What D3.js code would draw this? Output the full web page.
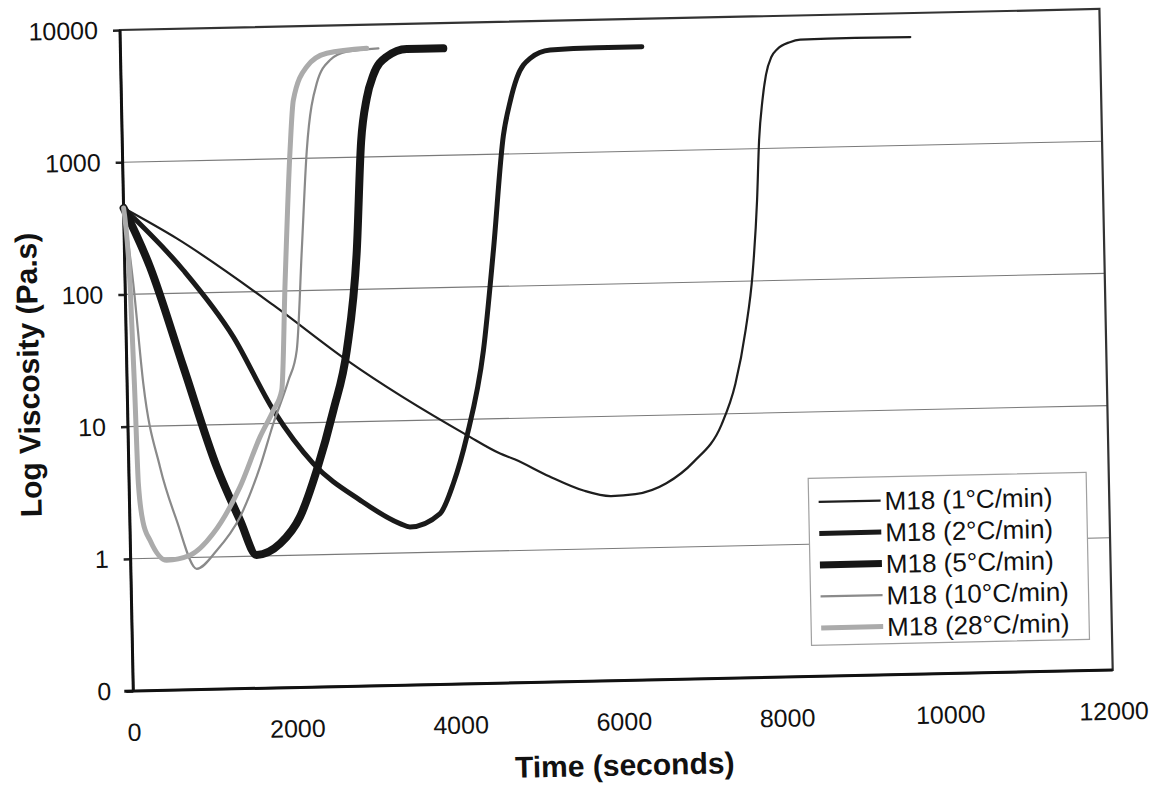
<!DOCTYPE html>
<html><head><meta charset="utf-8">
<script src="https://cdn.jsdelivr.net/npm/d3@7"></script>
<style>
html,body{margin:0;padding:0;background:#fff;}
svg{display:block;font-family:"Liberation Sans",Arial,sans-serif;}
</style>
</head><body>
<svg id="chart" width="1157" height="787"></svg>
<script>
// ---- data (time in seconds, viscosity in Pa.s) ----
const seriesLabels = ["M18 (1°C/min)", "M18 (2°C/min)", "M18 (5°C/min)", "M18 (10°C/min)", "M18 (28°C/min)"];

const time1 = [0, 643, 1811, 2696, 4148, 4551, 4727, 5145, 5563, 5900, 6197, 6580, 6922, 7270, 7449, 7589, 7687, 7760, 7800, 7850, 7900, 7970, 8044, 8200, 8328, 9000, 9677];
const visc1 = [450, 260, 78.5, 29.3, 7.6, 5.45, 4.9, 3.6, 2.77, 2.49, 2.55, 3.05, 4.4, 8.3, 16.7, 43, 113, 405, 1160, 2300, 3600, 4900, 5600, 6300, 6550, 6620, 6580];

const time2 = [0, 717, 1312, 1785, 2261, 2824, 3308, 3430, 3801, 3971, 4147, 4372, 4519, 4670, 4760, 4847, 5016, 5263, 5835, 6387];
const visc2 = [450, 149, 45.9, 12.6, 4.9, 2.55, 1.67, 1.57, 1.96, 3.29, 7.4, 33, 188, 1390, 2480, 3720, 5240, 6010, 6150, 6150];

const time5 = [0, 309, 693, 1077, 1349, 1545, 1834, 2085, 2302, 2520, 2699, 2846, 2925, 3005, 3092, 3261, 3507, 3955];
const visc5 = [450, 160, 27.7, 4.8, 1.88, 1.02, 1.23, 1.95, 4.37, 12.3, 34.8, 198, 1300, 2780, 4160, 5690, 6460, 6440];

const time10 = [0, 100, 198, 382, 573, 807, 1056, 1350, 1607, 1781, 1976, 2086, 2172, 2258, 2396, 2565, 2772, 3160];
const visc10 = [450, 121, 21.1, 4.9, 1.92, 0.82, 1.12, 1.99, 4.72, 10, 21, 35.6, 202, 1150, 3670, 5480, 6300, 6600];

const time28 = [0, 60, 90, 113, 160, 242, 441, 728, 1019, 1357, 1615, 1785, 1892, 1959, 2053, 2106, 2278, 2526, 3017];
const visc28 = [450, 120, 20, 3.7, 1.9, 1.37, 0.96, 1.04, 1.51, 3.36, 7.96, 12.6, 17.8, 114, 1160, 2770, 4920, 6170, 6630];

const xTicks = [0, 2000, 4000, 6000, 8000, 10000, 12000];
const yTicks = [0.1, 1, 10, 100, 1000, 10000];
const yTickLabels = ["0", "1", "10", "100", "1000", "10000"];
const gridValues = [1, 10, 100, 1000];
const xTitle = "Time (seconds)";
const yTitle = "Log Viscosity (Pa.s)";

// ---- styles ----
const seriesStyle = [
  {color: "#1e1e1e", width: 2.2},
  {color: "#1a1a1a", width: 5},
  {color: "#161616", width: 8},
  {color: "#8a8a8a", width: 2.2},
  {color: "#ababab", width: 5}
];

const series = [
  [time1, visc1], [time2, visc2], [time5, visc5], [time10, visc10], [time28, visc28]
].map((p, i) => ({label: seriesLabels[i], style: seriesStyle[i],
  pts: p[0].map((t, j) => ({t: t, v: p[1][j]}))}));

// ---- layout ----
const W = 979.6, H = 661.1;
const svg = d3.select("#chart");
svg.append("rect").attr("width", 1157).attr("height", 787).attr("fill", "#ffffff");
// slight tilt of the scanned original
const g = svg.append("g").attr("transform", "matrix(0.9998,-0.02144,0.02012,0.99985,120,30)");

const x = d3.scaleLinear().domain([0, 12000]).range([0, W]);
const y = d3.scaleLog().domain([0.1, 10000]).range([H, 0]);

// gridlines
g.selectAll("line.grid").data(gridValues).join("line")
  .attr("class", "grid")
  .attr("x1", 0).attr("x2", W)
  .attr("y1", d => y(d)).attr("y2", d => y(d))
  .attr("stroke", "#7a7a7a").attr("stroke-width", 1.1);

// frame (top/right)
g.append("rect").attr("x", 0).attr("y", 0).attr("width", W).attr("height", H)
  .attr("fill", "none").attr("stroke", "#333").attr("stroke-width", 2.2);

// y axis
const yAxis = g.append("g").call(
  d3.axisLeft(y).tickValues(yTicks)
    .tickFormat((d, i) => yTickLabels[i])
    .tickSize(7).tickPadding(15));
yAxis.select(".domain").remove();
yAxis.selectAll(".tick line").attr("stroke", "#222").attr("stroke-width", 2.5);
yAxis.selectAll("text").attr("font-size", 25).attr("fill", "#111")
  .attr("font-family", "Liberation Sans, Arial, sans-serif");

// x axis labels
const xAxis = g.append("g").attr("transform", `translate(0,${H})`).call(
  d3.axisBottom(x).tickValues(xTicks).tickFormat(d3.format("d"))
    .tickSize(0).tickPadding(32));
xAxis.select(".domain").remove();
xAxis.selectAll("text").attr("font-size", 25).attr("fill", "#111")
  .attr("font-family", "Liberation Sans, Arial, sans-serif");

// axis lines (left & bottom, heavier)
g.append("line").attr("x1", 0).attr("x2", 0).attr("y1", 0).attr("y2", H)
  .attr("stroke", "#111").attr("stroke-width", 3);
g.append("line").attr("x1", -9).attr("x2", W).attr("y1", H).attr("y2", H)
  .attr("stroke", "#111").attr("stroke-width", 3);

// series lines
const line = d3.line().x(d => x(d.t)).y(d => y(d.v)).curve(d3.curveMonotoneX);
g.selectAll("path.series").data(series).join("path")
  .attr("class", "series")
  .attr("d", d => line(d.pts))
  .attr("fill", "none")
  .attr("stroke", d => d.style.color)
  .attr("stroke-width", d => d.style.width)
  .attr("stroke-linejoin", "round")
  .attr("stroke-linecap", "round");

// legend
const legend = g.append("g");
legend.append("rect").attr("x", 679).attr("y", 463).attr("width", 278).attr("height", 167)
  .attr("fill", "#ffffff").attr("stroke", "#a0a0a0").attr("stroke-width", 1.2);
const rows = legend.selectAll("g.row").data(series).join("g")
  .attr("class", "row")
  .attr("transform", (d, i) => `translate(0,${486.8 + i * 31.5})`);
rows.append("line").attr("x1", 689).attr("x2", 751).attr("y1", 0).attr("y2", 0)
  .attr("stroke", d => d.style.color)
  .attr("stroke-width", d => Math.min(d.style.width, 7));
rows.append("text").attr("x", 755).attr("y", 0).attr("dy", "0.36em")
  .attr("font-size", 26).attr("fill", "#111")
  .text(d => d.label);

// axis titles
g.append("text").attr("x", W / 2).attr("y", H + 95)
  .attr("text-anchor", "middle").attr("font-size", 30).attr("font-weight", "bold")
  .attr("fill", "#111").text(xTitle);
g.append("text")
  .attr("transform", `translate(-88,${343}) rotate(-90)`)
  .attr("text-anchor", "middle").attr("font-size", 30).attr("font-weight", "bold")
  .attr("fill", "#111").text(yTitle);
</script>
</body></html>
